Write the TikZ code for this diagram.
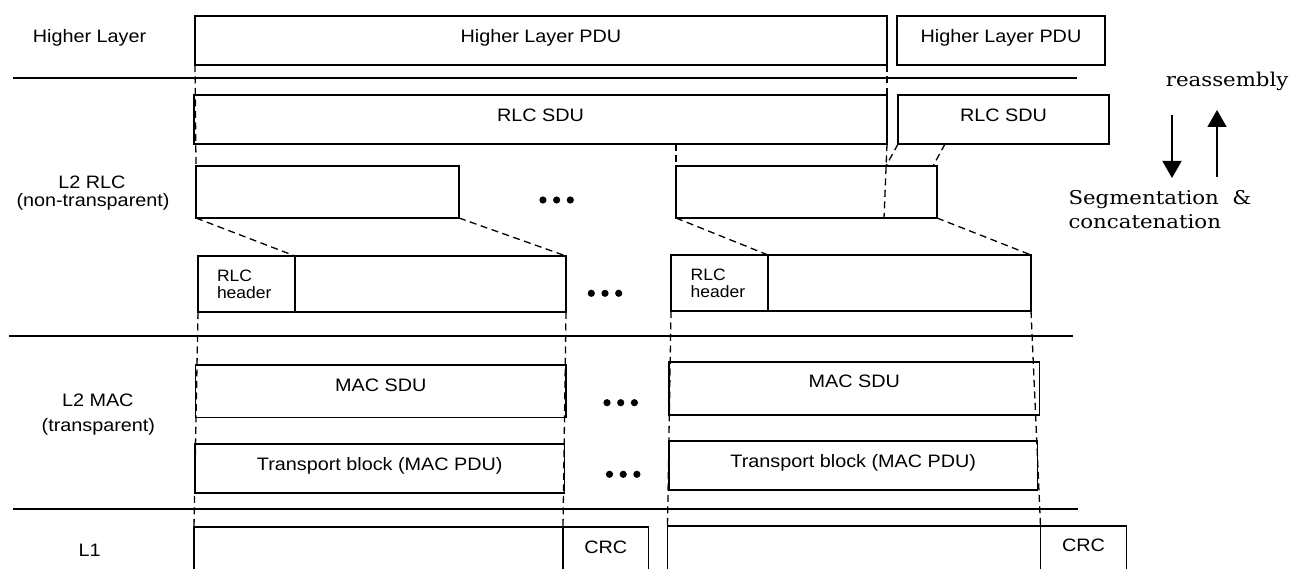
\documentclass[tikz,border=0pt]{standalone}
\usepackage{fontspec}
\setmainfont{Liberation Sans}
\newfontfamily\serifr{DejaVu Serif}
\usetikzlibrary{arrows.meta}
\newcommand\sxx[2]{\scalebox{#1}[1]{#2}}
\begin{document}
\begin{tikzpicture}[x=1pt,y=-1pt,
  box/.style={draw, line width=1.8pt, anchor=north west, inner sep=0pt, outer sep=0pt},
  sep/.style={line width=1.7pt},
  dsh/.style={line width=1.3pt, dash pattern=on 7pt off 4.5pt},
  lbl/.style={anchor=base, inner sep=0pt, font=\fontsize{18}{20}\selectfont},
  sml/.style={anchor=base west, inner sep=0pt, font=\fontsize{16.5}{18}\selectfont},
  rtx/.style={anchor=base west, inner sep=0pt, font=\serifr\fontsize{19}{22}\selectfont},
  arr/.style={line width=1.7pt, -{Triangle[width=19pt,length=17pt]}}
]
\useasboundingbox (0,0) rectangle (1289,569);

% layer separators
\draw[sep] (13,78) -- (1077,78);
\draw[sep] (9,336) -- (1073,336);
\draw[sep] (13,509) -- (1077.5,509);

% layer labels
\node[lbl] (tHL) at (89.5,43) {\sxx{1.1}{Higher Layer}};
\node[lbl] (tRLC1) at (92,188.3) {\sxx{1.1}{L2 RLC}};
\node[lbl] (tRLC2) at (93,206.7) {\sxx{1.1}{(non-transparent)}};
\node[lbl] (tMAC1) at (97.8,406) {\sxx{1.1}{L2 MAC}};
\node[lbl] (tMAC2) at (98.4,431.7) {\sxx{1.1}{(transparent)}};
\node[lbl] (tL1) at (89.7,556) {\sxx{1.1}{L1}};

% boxes
\node[box, minimum width=692pt, minimum height=49pt] (hlA) at (195,16) {};
\node[box, minimum width=208pt, minimum height=49pt] (hlB) at (897,16) {};
\node[box, minimum width=693pt, minimum height=49pt] (sduA) at (194,95) {};
\node[box, minimum width=211pt, minimum height=49pt] (sduB) at (898,95) {};
\node[box, minimum width=263pt, minimum height=52pt] (segA) at (196,166) {};
\node[box, minimum width=261pt, minimum height=52pt] (segB) at (676,166) {};
\node[box, minimum width=97pt, minimum height=56pt] (hdrA) at (198,256) {};
\node[box, minimum width=271pt, minimum height=56pt] (datA) at (295,256) {};
\node[box, minimum width=97pt, minimum height=56pt] (hdrB) at (671,255) {};
\node[box, minimum width=263pt, minimum height=56pt] (datB) at (768,255) {};
\node[box, minimum width=370.5pt, minimum height=52.5pt] (macA) at (195.5,365) {};
\node[box, minimum width=370.5pt, minimum height=53pt] (macB) at (669,362) {};
\node[box, minimum width=369.5pt, minimum height=49pt] (tbA) at (195,444) {};
\node[box, minimum width=368.5pt, minimum height=49pt] (tbB) at (669,441) {};

% L1 blocks (open at the bottom edge)
\coordinate (l1A) at (194,527);
\coordinate (crcA) at (563,527);
\coordinate (endA) at (648.5,527);
\coordinate (l1B) at (667.5,526);
\coordinate (crcB) at (1040.5,526);
\coordinate (endB) at (1126.5,526);
\draw[line width=1.8pt] (l1A |- 0,569) -- (l1A) -- (endA) -- (endA |- 0,569);
\draw[line width=1.8pt] (crcA) -- (crcA |- 0,569);
\draw[line width=1.8pt] (l1B |- 0,569) -- (l1B) -- (endB) -- (endB |- 0,569);
\draw[line width=1.8pt] (crcB) -- (crcB |- 0,569);

% box texts
\node[lbl] (xhlA) at (hlA.center |- 0,42.3) {\sxx{1.1}{Higher Layer PDU}};
\node[lbl] (xhlB) at (hlB.center |- 0,42.3) {\sxx{1.1}{Higher Layer PDU}};
\node[lbl] (xsduA) at (sduA.center |- 0,121.5) {\sxx{1.1}{RLC SDU}};
\node[lbl] (xsduB) at (sduB.center |- 0,121.2) {\sxx{1.1}{RLC SDU}};
\node[sml] (xhA1) at (216.8,281.5) {\sxx{1.06}{RLC}};
\node[sml] (xhA2) at (216.8,298.2) {\sxx{1.06}{header}};
\node[sml] (xhB1) at (690.5,280.3) {\sxx{1.06}{RLC}};
\node[sml] (xhB2) at (690.5,297.7) {\sxx{1.06}{header}};
\node[lbl] (xmacA) at (macA.center |- 0,391) {\sxx{1.1}{MAC SDU}};
\node[lbl] (xmacB) at (macB.center |- 0,387.7) {\sxx{1.1}{MAC SDU}};
\node[lbl] (xtbA) at (tbA.center |- 0,470) {\sxx{1.1}{Transport block (MAC PDU)}};
\node[lbl] (xtbB) at (tbB.center |- 0,467.3) {\sxx{1.1}{Transport block (MAC PDU)}};
\node[lbl] (xcrcA) at (605.7,553.3) {\sxx{1.1}{CRC}};
\node[lbl] (xcrcB) at (1083.5,551) {\sxx{1.1}{CRC}};

% ellipses
\foreach \cx/\cy in {556.6/200, 605/293.3, 620.7/402.7, 623.2/474.3}{
  \foreach \dx in {-13.7,0,13.7}{
    \fill ({\cx+\dx},\cy) circle (3.6pt);
  }
}

% dashed mapping lines
\coordinate (sA) at (884,218);
\coordinate (pB1) at (886,166);
\coordinate (qB0) at (945,144);
\coordinate (qB1) at (933,166);
\draw[dsh] (hlA.south west) -- (segA.north west);
\draw[dsh] (hlA.south east) -- (sduA.north east);
\draw[dsh] (sduA.south east) -- (sA);
\draw[dsh] (segB.north west |- sduA.south) -- (segB.north west);
\draw[dsh] (sduB.south west) -- (pB1);
\draw[dsh] (qB0) -- (qB1);
\draw[dsh] (segA.south west) -- (hdrA.north east);
\draw[dsh] (segA.south east) -- (datA.north east);
\draw[dsh] (segB.south west) -- (hdrB.north east);
\draw[dsh] (segB.south east) -- (datB.north east);
\draw[dsh] (hdrA.south west) -- (l1A);
\draw[dsh] (datA.south east) -- (crcA);
\draw[dsh] (hdrB.south west) -- (l1B);
\draw[dsh] (datB.south east) -- (crcB);

% segmentation / reassembly
\coordinate (dn0) at (1172,115);
\coordinate (dn1) at (1172,178);
\coordinate (up0) at (1217,177);
\coordinate (up1) at (1217,110);
\draw[arr] (dn0) -- (dn1);
\draw[arr] (up0) -- (up1);
\node[rtx] (tre) at (1165.7,86.7) {\sxx{1.12}{reassembly}};
\node[rtx] (tseg) at (1068.3,205) {\sxx{1.12}{Segmentation\ \ \&}};
\node[rtx] (tcon) at (1068.3,228.3) {\sxx{1.12}{concatenation}};
\end{tikzpicture}
\end{document}
